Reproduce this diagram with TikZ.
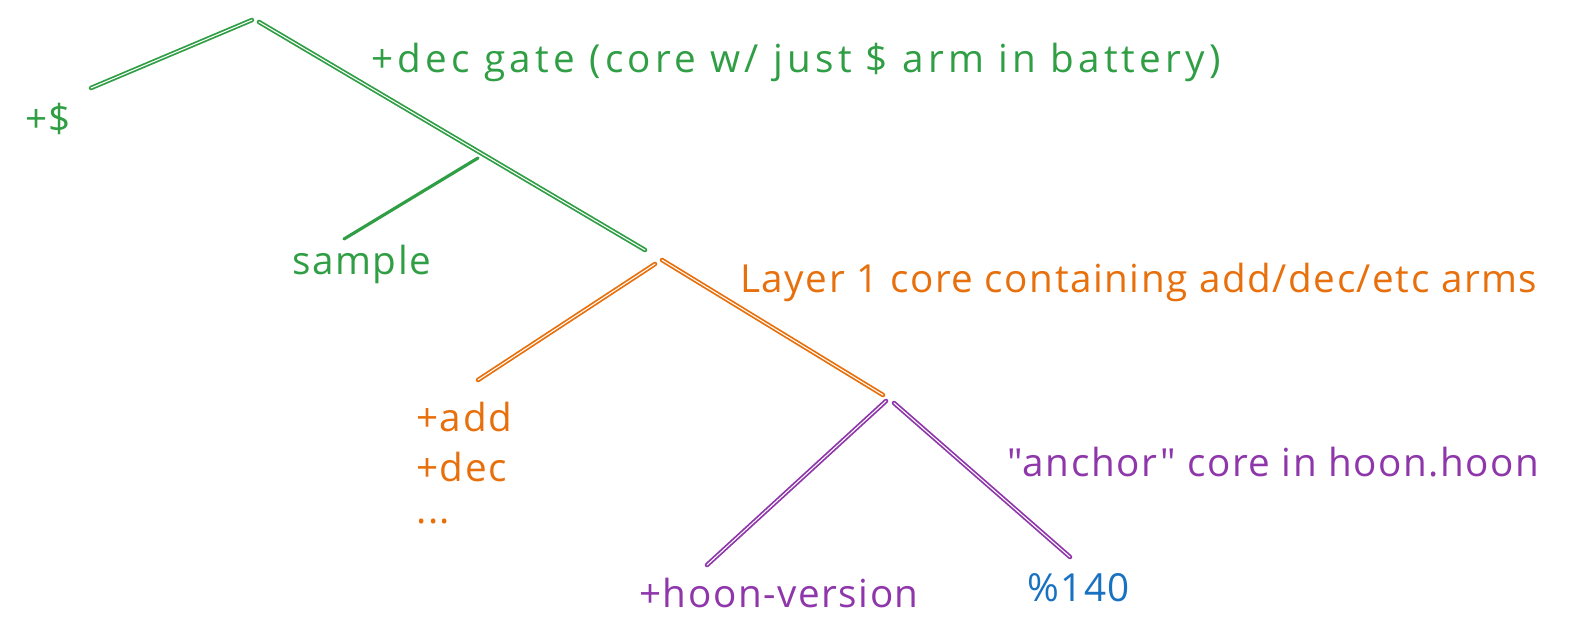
\documentclass[tikz,border=0pt]{standalone}
\usepackage{fontspec}
\setmainfont{Open Sans}[LetterSpace=4, Ligatures=TeXOff]
\usepackage{tikz}
\usetikzlibrary{positioning}
\definecolor{cGreen}{HTML}{2F9E44}
\definecolor{cOrange}{HTML}{E8700C}
\definecolor{cPurple}{HTML}{8E36AA}
\definecolor{cBlue}{HTML}{1971C2}
\tikzset{
  arm/.style={line width=1pt, double=white, double distance=0.6pt, line cap=round},
  solidarm/.style={line width=1.8pt, line cap=round},
  lbl/.style={font=\fontsize{22}{26}\selectfont, inner sep=0pt, anchor=west},
  widelbl/.style={lbl, font=\fontsize{22}{26}\selectfont\addfontfeature{LetterSpace=11}}
}

\begin{document}
\begin{tikzpicture}[x=0.02cm, y=-0.02cm]
\useasboundingbox (0,0) rectangle (1579,639);
% Top level: +dec gate
\coordinate (rootL) at (252,20);  \coordinate (dollarEnd) at (91,88);
\coordinate (rootR) at (259,22);  \coordinate (gateEnd) at (645,250);
\coordinate (sampleTop) at (478,158); \coordinate (sampleEnd) at (344,239);
\node[lbl, text=cGreen] (dollar) at (25,119) {+\$};
\node[widelbl, text=cGreen] (gate) at (371,62) {+dec gate (core w/ just \$ arm in battery)};
\node[lbl, text=cGreen] (sample) at (292,264) {sample};
\draw[arm, cGreen] (rootL) -- (dollarEnd);
\draw[arm, cGreen] (rootR) -- (gateEnd);
\draw[solidarm, cGreen] (sampleTop) -- (sampleEnd);
% Layer 1 core
\coordinate (layerL) at (655,264); \coordinate (addEnd) at (478,380);
\coordinate (layerR) at (662,260); \coordinate (anchorTop) at (883,395);
\node[lbl, text=cOrange] (layer) at (740,282) {Layer 1 core containing add/dec/etc arms};
\node[lbl, text=cOrange] (add) at (416,417) {+add};
\node[lbl, text=cOrange, below=1cm of add.west, anchor=west] (dec) {+dec};
\node[lbl, text=cOrange, below=1.1cm of dec.west, anchor=west] (more) {...};
\draw[arm, cOrange] (layerL) -- (addEnd);
\draw[arm, cOrange] (layerR) -- (anchorTop);
% anchor core
\coordinate (anchorL) at (886,401); \coordinate (versionEnd) at (707,565);
\coordinate (anchorR) at (894,403); \coordinate (numEnd) at (1070,557);
\node[lbl, text=cPurple] (anchor) at (1007,462) {"anchor" core in hoon.hoon};
\node[lbl, text=cPurple] (version) at (639,593) {+hoon-version};
\node[lbl, text=cBlue] (num) at (1027,588) {\%140};
\draw[arm, cPurple] (anchorL) -- (versionEnd);
\draw[arm, cPurple] (anchorR) -- (numEnd);
\end{tikzpicture}
\end{document}
